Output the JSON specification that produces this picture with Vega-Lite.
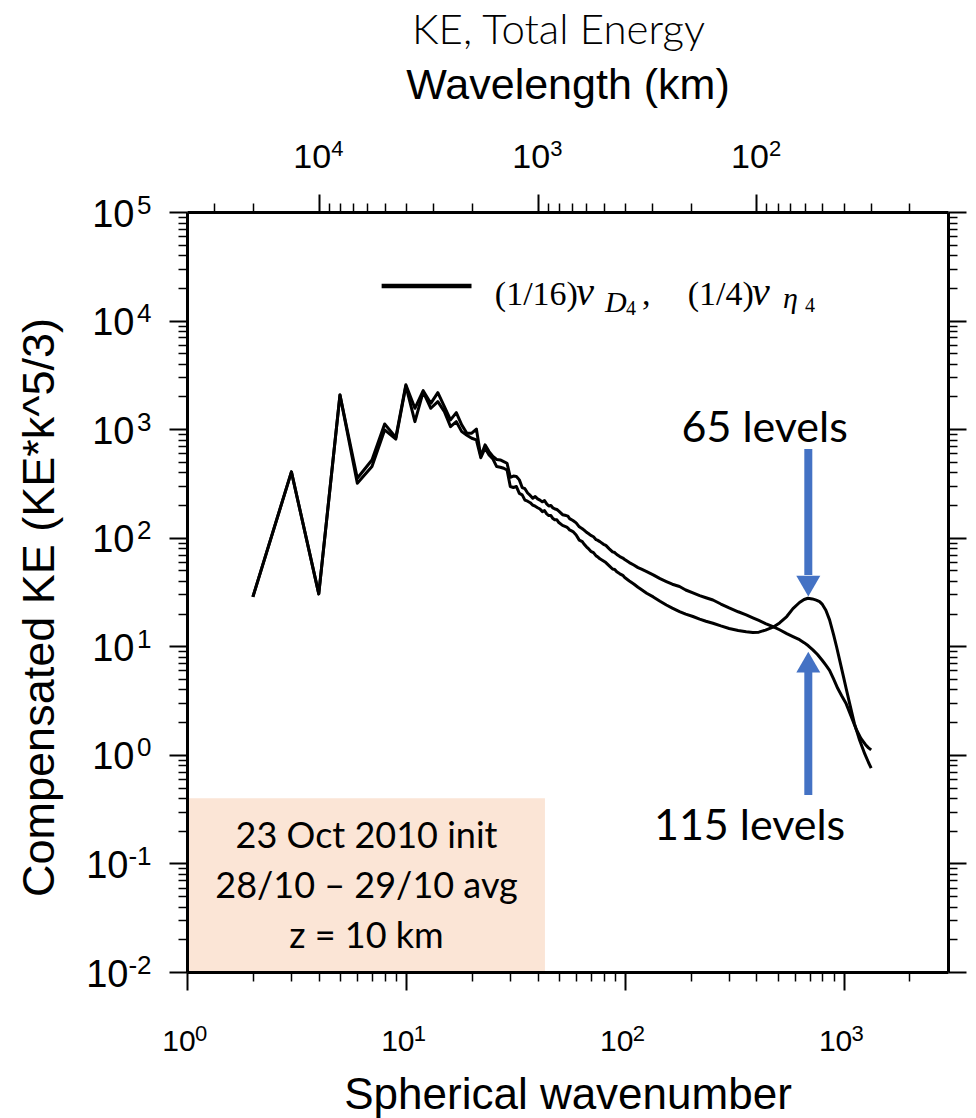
{
  "$schema": "https://vega.github.io/schema/vega-lite/v6.json",
  "width": 761,
  "height": 760,
  "autosize": "none",
  "padding": {"left": 187, "top": 212, "right": 28, "bottom": 146},
  "background": "white",
  "title": {"text": "KE, Total Energy", "font": "Lato", "fontWeight": 300, "fontSize": 42, "color": "black", "anchor": "middle", "offset": 11, "dx": -9},
  "config": {"view": {"stroke": null}, "axis": {"grid": false}},
  "datasets": {
    "curves": [
      {"run":"115 levels","k":2,"E":28.5},{"run":"115 levels","k":3,"E":404},{"run":"115 levels","k":4,"E":30.4},{"run":"115 levels","k":5,"E":2065},
      {"run":"115 levels","k":6,"E":353},{"run":"115 levels","k":7,"E":520},{"run":"115 levels","k":8,"E":1117},{"run":"115 levels","k":9,"E":840},
      {"run":"115 levels","k":10,"E":2560},{"run":"115 levels","k":11,"E":1557},{"run":"115 levels","k":12,"E":2261},{"run":"115 levels","k":13,"E":1730},
      {"run":"115 levels","k":14,"E":2168},{"run":"115 levels","k":15,"E":1611},{"run":"115 levels","k":16,"E":1216},{"run":"115 levels","k":17,"E":1419},
      {"run":"115 levels","k":18,"E":1094},{"run":"115 levels","k":19,"E":917},{"run":"115 levels","k":20,"E":917},{"run":"115 levels","k":21,"E":1002},
      {"run":"115 levels","k":22,"E":560},{"run":"115 levels","k":23,"E":716},{"run":"115 levels","k":24,"E":621},{"run":"115 levels","k":25,"E":560},
      {"run":"115 levels","k":26,"E":525},{"run":"115 levels","k":27,"E":520},{"run":"115 levels","k":28,"E":502},{"run":"115 levels","k":29,"E":485},
      {"run":"115 levels","k":30,"E":360},{"run":"115 levels","k":31,"E":370},{"run":"115 levels","k":32,"E":367},{"run":"115 levels","k":33,"E":341},
      {"run":"115 levels","k":34,"E":290},{"run":"115 levels","k":35,"E":283},{"run":"115 levels","k":36,"E":258},{"run":"115 levels","k":37,"E":245},
      {"run":"115 levels","k":38,"E":231},{"run":"115 levels","k":39,"E":240},{"run":"115 levels","k":40,"E":228},{"run":"115 levels","k":41,"E":222},
      {"run":"115 levels","k":42,"E":214},{"run":"115 levels","k":43,"E":220},{"run":"115 levels","k":44,"E":205},{"run":"115 levels","k":45,"E":196},
      {"run":"115 levels","k":46,"E":198},{"run":"115 levels","k":47,"E":188},{"run":"115 levels","k":48,"E":184},{"run":"115 levels","k":49,"E":182},
      {"run":"115 levels","k":50,"E":176},{"run":"115 levels","k":52,"E":163},{"run":"115 levels","k":54,"E":160},{"run":"115 levels","k":55,"E":158},
      {"run":"115 levels","k":56,"E":150},{"run":"115 levels","k":58,"E":144},{"run":"115 levels","k":60,"E":137},{"run":"115 levels","k":62,"E":126},
      {"run":"115 levels","k":64,"E":121},{"run":"115 levels","k":65,"E":118},{"run":"115 levels","k":67,"E":112},{"run":"115 levels","k":68,"E":110},
      {"run":"115 levels","k":70,"E":105},{"run":"115 levels","k":72,"E":102},{"run":"115 levels","k":74,"E":96},{"run":"115 levels","k":75,"E":95},
      {"run":"115 levels","k":77,"E":92},{"run":"115 levels","k":80,"E":87},{"run":"115 levels","k":82,"E":85},{"run":"115 levels","k":85,"E":79},
      {"run":"115 levels","k":88,"E":74},{"run":"115 levels","k":90,"E":73},{"run":"115 levels","k":92,"E":70},{"run":"115 levels","k":95,"E":67},
      {"run":"115 levels","k":98,"E":65},{"run":"115 levels","k":100,"E":63},{"run":"115 levels","k":105,"E":59},{"run":"115 levels","k":110,"E":56},
      {"run":"115 levels","k":115,"E":53},{"run":"115 levels","k":120,"E":51},{"run":"115 levels","k":126,"E":48.8},{"run":"115 levels","k":135,"E":45.5},
      {"run":"115 levels","k":145,"E":42},{"run":"115 levels","k":155,"E":39.5},{"run":"115 levels","k":165,"E":37.3},{"run":"115 levels","k":178,"E":35.5},
      {"run":"115 levels","k":190,"E":33},{"run":"115 levels","k":205,"E":31},{"run":"115 levels","k":220,"E":29.3},{"run":"115 levels","k":235,"E":28},
      {"run":"115 levels","k":253,"E":26.7},{"run":"115 levels","k":275,"E":24.5},{"run":"115 levels","k":300,"E":22.6},{"run":"115 levels","k":330,"E":20.8},
      {"run":"115 levels","k":359,"E":19.5},{"run":"115 levels","k":385,"E":18.3},{"run":"115 levels","k":410,"E":17.3},{"run":"115 levels","k":440,"E":16.2},
      {"run":"115 levels","k":476,"E":15.2},{"run":"115 levels","k":510,"E":14.2},{"run":"115 levels","k":550,"E":13.1},{"run":"115 levels","k":587,"E":12.3},
      {"run":"115 levels","k":629,"E":11.5},{"run":"115 levels","k":660,"E":10.8},{"run":"115 levels","k":690,"E":10.1},{"run":"115 levels","k":724,"E":9.27},
      {"run":"115 levels","k":760,"E":8.4},{"run":"115 levels","k":800,"E":7.4},{"run":"115 levels","k":830,"E":6.7},{"run":"115 levels","k":863,"E":6.0},
      {"run":"115 levels","k":900,"E":5.0},{"run":"115 levels","k":940,"E":4.1},{"run":"115 levels","k":980,"E":3.5},{"run":"115 levels","k":1028,"E":2.95},
      {"run":"115 levels","k":1080,"E":2.3},{"run":"115 levels","k":1142,"E":1.72},{"run":"115 levels","k":1200,"E":1.42},{"run":"115 levels","k":1260,"E":1.24},
      {"run":"115 levels","k":1300,"E":1.16},{"run":"115 levels","k":1337,"E":1.11},

      {"run":"65 levels","k":2,"E":28.5},{"run":"65 levels","k":3,"E":404},{"run":"65 levels","k":4,"E":30.4},{"run":"65 levels","k":5,"E":2065},
      {"run":"65 levels","k":6,"E":318},{"run":"65 levels","k":7,"E":452},{"run":"65 levels","k":8,"E":984},{"run":"65 levels","k":9,"E":810},
      {"run":"65 levels","k":10,"E":2500},{"run":"65 levels","k":11,"E":1172},{"run":"65 levels","k":12,"E":2200},{"run":"65 levels","k":13,"E":1557},
      {"run":"65 levels","k":14,"E":1790},{"run":"65 levels","k":15,"E":1449},{"run":"65 levels","k":16,"E":1055},{"run":"65 levels","k":17,"E":1172},
      {"run":"65 levels","k":18,"E":949},{"run":"65 levels","k":19,"E":880},{"run":"65 levels","k":20,"E":824},{"run":"65 levels","k":21,"E":796},
      {"run":"65 levels","k":22,"E":545},{"run":"65 levels","k":23,"E":667},{"run":"65 levels","k":24,"E":578},{"run":"65 levels","k":25,"E":530},
      {"run":"65 levels","k":26,"E":452},{"run":"65 levels","k":27,"E":446},{"run":"65 levels","k":28,"E":436},{"run":"65 levels","k":29,"E":420},
      {"run":"65 levels","k":30,"E":296},{"run":"65 levels","k":31,"E":290},{"run":"65 levels","k":32,"E":296},{"run":"65 levels","k":33,"E":256},
      {"run":"65 levels","k":34,"E":248},{"run":"65 levels","k":35,"E":222},{"run":"65 levels","k":36,"E":217},{"run":"65 levels","k":37,"E":210},
      {"run":"65 levels","k":38,"E":200},{"run":"65 levels","k":39,"E":195},{"run":"65 levels","k":40,"E":189},{"run":"65 levels","k":41,"E":184},
      {"run":"65 levels","k":42,"E":174},{"run":"65 levels","k":43,"E":178},{"run":"65 levels","k":44,"E":166},{"run":"65 levels","k":45,"E":160},
      {"run":"65 levels","k":46,"E":160},{"run":"65 levels","k":47,"E":150},{"run":"65 levels","k":48,"E":146},{"run":"65 levels","k":49,"E":146},
      {"run":"65 levels","k":50,"E":138},{"run":"65 levels","k":52,"E":130},{"run":"65 levels","k":54,"E":126},{"run":"65 levels","k":55,"E":123},
      {"run":"65 levels","k":56,"E":118},{"run":"65 levels","k":58,"E":114},{"run":"65 levels","k":60,"E":106},{"run":"65 levels","k":62,"E":95},
      {"run":"65 levels","k":64,"E":92},{"run":"65 levels","k":65,"E":88},{"run":"65 levels","k":67,"E":82},{"run":"65 levels","k":68,"E":80},
      {"run":"65 levels","k":70,"E":75},{"run":"65 levels","k":72,"E":73},{"run":"65 levels","k":74,"E":68},{"run":"65 levels","k":75,"E":67},
      {"run":"65 levels","k":77,"E":64},{"run":"65 levels","k":80,"E":61},{"run":"65 levels","k":82,"E":59},{"run":"65 levels","k":85,"E":55},
      {"run":"65 levels","k":88,"E":51.5},{"run":"65 levels","k":90,"E":51},{"run":"65 levels","k":92,"E":48.5},{"run":"65 levels","k":95,"E":46.5},
      {"run":"65 levels","k":98,"E":45},{"run":"65 levels","k":100,"E":43},{"run":"65 levels","k":105,"E":40},{"run":"65 levels","k":110,"E":37.5},
      {"run":"65 levels","k":115,"E":35},{"run":"65 levels","k":120,"E":33},{"run":"65 levels","k":126,"E":30.8},{"run":"65 levels","k":135,"E":28.5},
      {"run":"65 levels","k":145,"E":26},{"run":"65 levels","k":155,"E":24},{"run":"65 levels","k":165,"E":22.5},{"run":"65 levels","k":178,"E":20.9},
      {"run":"65 levels","k":190,"E":19.8},{"run":"65 levels","k":205,"E":18.8},{"run":"65 levels","k":220,"E":17.8},{"run":"65 levels","k":235,"E":17},
      {"run":"65 levels","k":253,"E":16.3},{"run":"65 levels","k":275,"E":15.4},{"run":"65 levels","k":300,"E":14.6},{"run":"65 levels","k":330,"E":14},
      {"run":"65 levels","k":359,"E":13.6},{"run":"65 levels","k":385,"E":13.4},{"run":"65 levels","k":410,"E":13.5},{"run":"65 levels","k":440,"E":14.1},
      {"run":"65 levels","k":476,"E":15.0},{"run":"65 levels","k":510,"E":16.4},{"run":"65 levels","k":550,"E":18.8},{"run":"65 levels","k":587,"E":22.2},
      {"run":"65 levels","k":629,"E":25.3},{"run":"65 levels","k":660,"E":27},{"run":"65 levels","k":687,"E":27.7},{"run":"65 levels","k":720,"E":27.3},
      {"run":"65 levels","k":750,"E":26.6},{"run":"65 levels","k":777,"E":25.8},{"run":"65 levels","k":800,"E":24.3},{"run":"65 levels","k":830,"E":21.5},
      {"run":"65 levels","k":863,"E":17.5},{"run":"65 levels","k":900,"E":12.8},{"run":"65 levels","k":930,"E":9.8},{"run":"65 levels","k":959,"E":7.5},
      {"run":"65 levels","k":1000,"E":5.2},{"run":"65 levels","k":1030,"E":4.0},{"run":"65 levels","k":1065,"E":3.0},{"run":"65 levels","k":1120,"E":1.95},
      {"run":"65 levels","k":1183,"E":1.37},{"run":"65 levels","k":1250,"E":1.02},{"run":"65 levels","k":1300,"E":0.85},{"run":"65 levels","k":1337,"E":0.755}
    ],
    "box": [{"k1": 1, "k2": 43.2, "E1": 0.01, "E2": 0.398}],
    "boxtext": [
      {"k": 6.61, "E": 0.1387, "t": "23 Oct 2010 init"},
      {"k": 6.61, "E": 0.0481, "t": "28/10 – 29/10 avg"},
      {"k": 6.61, "E": 0.01663, "t": "z = 10 km"}
    ],
    "levels": [
      {"k": 436, "E": 762, "t": "65 levels"},
      {"k": 372, "E": 0.1644, "t": "115 levels"}
    ],
    "legendline": [{"k1": 7.75, "k2": 19.95, "E": 20830}],
    "legendmain": [
      {"k": 25.5, "E": 13910, "t": "(1/16)"},
      {"k": 119.9, "E": 13910, "t": ","},
      {"k": 194.0, "E": 13910, "t": "(1/4)"}
    ],
    "legendnu": [
      {"k": 60.0, "E": 13910, "t": "ν"},
      {"k": 381.4, "E": 13910, "t": "ν"}
    ],
    "legendsub": [
      {"k": 81.2, "E": 11995, "t": "D"},
      {"k": 528.6, "E": 13057, "t": "η"}
    ],
    "legenddigit": [
      {"k": 101.3, "E": 11253, "t": "4"},
      {"k": 666.2, "E": 11995, "t": "4"}
    ],
    "arrows": [
      {"k": 690, "E1": 656, "E2": 45.4, "Eh": 35.9, "dir": "down"},
      {"k": 690, "E1": 0.427, "E2": 5.8, "Eh": 7.16, "dir": "up"}
    ]
  },
  "layer": [
    {
      "data": {"name": "box"},
      "mark": {"type": "rect", "color": "#FBE5D6"},
      "encoding": {
        "x": {"field": "k1", "type": "quantitative", "scale": {"type": "log", "domain": [1, 3000]},
          "axis": {"orient": "bottom", "values": [2,3,4,5,6,7,8,9,20,30,40,50,60,70,80,90,200,300,400,500,600,700,800,900,2000], "tickSize": 9, "tickWidth": 1.5, "tickColor": "black", "labels": false, "domain": false, "title": null, "grid": false, "zindex": 1}},
        "x2": {"field": "k2"},
        "y": {"field": "E1", "type": "quantitative", "scale": {"type": "log", "domain": [0.01, 100000]},
          "axis": {"orient": "left", "values": [0.02,0.03,0.04,0.05,0.06,0.07,0.08,0.09,0.2,0.3,0.4,0.5,0.6,0.7,0.8,0.9,2,3,4,5,6,7,8,9,20,30,40,50,60,70,80,90,200,300,400,500,600,700,800,900,2000,3000,4000,5000,6000,7000,8000,9000,20000,30000,40000,50000,60000,70000,80000,90000], "tickSize": 9, "tickWidth": 1.5, "tickColor": "black", "labels": false, "domain": false, "title": null, "grid": false, "zindex": 1}},
        "y2": {"field": "E2"}
      }
    },
    {
      "data": {"name": "curves"},
      "mark": {"type": "line", "color": "black", "strokeWidth": 3, "strokeJoin": "round"},
      "encoding": {
        "x": {"field": "k", "type": "quantitative", "scale": {"type": "log", "domain": [1, 3000]},
          "axis": {"orient": "bottom", "values": [1, 10, 100, 1000], "labelExpr": "'10'", "tickSize": 18, "tickWidth": 2, "tickColor": "black", "domainWidth": 3, "domainColor": "black", "labelFont": "Liberation Sans", "labelFontSize": 30, "labelColor": "black", "labelAlign": "center", "labelBaseline": "alphabetic", "labelOffset": -8.5, "labelPadding": 60, "labelFlush": false, "labelOverlap": false, "title": "Spherical wavenumber", "titleFont": "Liberation Sans", "titleFontSize": 44, "titleFontWeight": "normal", "titleColor": "black", "titleBaseline": "alphabetic", "titleY": 136, "grid": false, "zindex": 1}},
        "y": {"field": "E", "type": "quantitative", "scale": {"type": "log", "domain": [0.01, 100000]},
          "axis": {"orient": "left", "values": [0.01, 0.1, 1, 10, 100, 1000, 10000, 100000], "labelExpr": "'10'", "tickSize": 18, "tickWidth": 2, "tickColor": "black", "domainWidth": 3, "domainColor": "black", "labelFont": "Liberation Sans", "labelFontSize": 38, "labelColor": "black", "labelAlign": "right", "labelBaseline": "alphabetic", "labelOffset": 14, "labelPadding": {"condition": {"test": "datum.value < 1", "value": 41}, "value": 35}, "labelFlush": false, "labelOverlap": false, "title": "Compensated KE (KE*k^5/3)", "titleFont": "Liberation Sans", "titleFontSize": 45, "titleFontWeight": "normal", "titleColor": "black", "titleBaseline": "alphabetic", "titleAlign": "center", "titleAngle": 270, "titleX": -134, "titleY": 395, "grid": false, "zindex": 1}},
        "detail": {"field": "run"}
      }
    },
    {
      "data": {"name": "boxtext"},
      "mark": {"type": "text", "font": "Lato", "fontSize": 36, "color": "black", "align": "center", "baseline": "alphabetic"},
      "encoding": {
        "x": {"field": "k", "type": "quantitative", "scale": {"type": "log", "domain": [1, 3000]},
          "axis": {"orient": "top", "values": [4, 40, 400], "labelExpr": "'10'", "tickSize": 18, "tickWidth": 2, "tickColor": "black", "domainWidth": 3, "domainColor": "black", "labelFont": "Liberation Sans", "labelFontSize": 34, "labelColor": "black", "labelAlign": "center", "labelBaseline": "alphabetic", "labelOffset": -7, "labelPadding": 27, "labelFlush": false, "labelOverlap": false, "title": "Wavelength (km)", "titleFont": "Liberation Sans", "titleFontSize": 43, "titleFontWeight": "normal", "titleColor": "black", "titleBaseline": "alphabetic", "titleY": -114, "grid": false, "zindex": 1}},
        "y": {"field": "E", "type": "quantitative", "scale": {"type": "log", "domain": [0.01, 100000]},
          "axis": {"orient": "right", "values": [0.01, 0.1, 1, 10, 100, 1000, 10000, 100000], "labels": false, "tickSize": 18, "tickWidth": 2, "tickColor": "black", "domainWidth": 3, "domainColor": "black", "title": null, "grid": false, "zindex": 1}},
        "text": {"field": "t"}
      }
    },
    {
      "data": {"name": "levels"},
      "mark": {"type": "text", "font": "Lato", "fontSize": 43, "color": "black", "align": "center", "baseline": "alphabetic"},
      "encoding": {
        "x": {"field": "k", "type": "quantitative", "scale": {"type": "log", "domain": [1, 3000]},
          "axis": {"orient": "top", "values": [1.3333, 2, 4.4444, 5, 5.7143, 6.6667, 8, 10, 13.333, 20, 44.444, 50, 57.143, 66.667, 80, 100, 133.33, 200, 444.44, 500, 571.43, 666.67, 800, 1000, 1333.3, 2000], "tickSize": 9, "tickWidth": 1.5, "tickColor": "black", "labels": false, "domain": false, "title": null, "grid": false, "zindex": 1}},
        "y": {"field": "E", "type": "quantitative", "scale": {"type": "log", "domain": [0.01, 100000]},
          "axis": {"orient": "right", "values": [0.02,0.03,0.04,0.05,0.06,0.07,0.08,0.09,0.2,0.3,0.4,0.5,0.6,0.7,0.8,0.9,2,3,4,5,6,7,8,9,20,30,40,50,60,70,80,90,200,300,400,500,600,700,800,900,2000,3000,4000,5000,6000,7000,8000,9000,20000,30000,40000,50000,60000,70000,80000,90000], "tickSize": 9, "tickWidth": 1.5, "tickColor": "black", "labels": false, "domain": false, "title": null, "grid": false, "zindex": 1}},
        "text": {"field": "t"}
      }
    },
    {
      "data": {"name": "legendline"},
      "mark": {"type": "rule", "color": "black", "strokeWidth": 4.5},
      "encoding": {
        "x": {"field": "k1", "type": "quantitative", "scale": {"type": "log", "domain": [1, 3000]},
          "axis": {"orient": "bottom", "values": [1, 10, 100, 1000], "labelExpr": "['0','1','2','3'][round(log(datum.value)/LN10)]", "ticks": false, "tickSize": 0, "domain": false, "labelFont": "Liberation Sans", "labelFontSize": 22, "labelColor": "black", "labelAlign": "left", "labelBaseline": "alphabetic", "labelOffset": 7.5, "labelPadding": 68, "labelFlush": false, "labelOverlap": false, "title": null, "grid": false, "zindex": 1}},
        "x2": {"field": "k2"},
        "y": {"field": "E", "type": "quantitative", "scale": {"type": "log", "domain": [0.01, 100000]},
          "axis": {"orient": "left", "values": [0.01, 0.1, 1, 10, 100, 1000, 10000, 100000], "labelExpr": "['-2','-1','0','1','2','3','4','5'][round(log(datum.value)/LN10)+2]", "ticks": false, "tickSize": 0, "domain": false, "labelFont": "Liberation Sans", "labelFontSize": 26, "labelColor": "black", "labelAlign": "right", "labelBaseline": "alphabetic", "labelOffset": 1, "labelPadding": 36, "labelFlush": false, "labelOverlap": false, "title": null, "grid": false, "zindex": 1}}
      }
    },
    {
      "data": {"name": "legendmain"},
      "mark": {"type": "text", "font": "Liberation Serif", "fontSize": 34, "color": "black", "align": "left", "baseline": "alphabetic"},
      "encoding": {
        "x": {"field": "k", "type": "quantitative", "scale": {"type": "log", "domain": [1, 3000]},
          "axis": {"orient": "top", "values": [4, 40, 400], "labelExpr": "datum.value < 10 ? '4' : (datum.value < 100 ? '3' : '2')", "ticks": false, "tickSize": 0, "domain": false, "labelFont": "Liberation Sans", "labelFontSize": 22, "labelColor": "black", "labelAlign": "left", "labelBaseline": "alphabetic", "labelOffset": 12, "labelPadding": 57, "labelFlush": false, "labelOverlap": false, "title": null, "grid": false, "zindex": 1}},
        "y": {"field": "E", "type": "quantitative", "scale": {"type": "log", "domain": [0.01, 100000]}, "axis": null},
        "text": {"field": "t"}
      }
    },
    {
      "data": {"name": "legendnu"},
      "mark": {"type": "text", "font": "Liberation Serif", "fontStyle": "italic", "fontSize": 40, "color": "black", "align": "left", "baseline": "alphabetic"},
      "encoding": {
        "x": {"field": "k", "type": "quantitative", "scale": {"type": "log", "domain": [1, 3000]}, "axis": null},
        "y": {"field": "E", "type": "quantitative", "scale": {"type": "log", "domain": [0.01, 100000]}, "axis": null},
        "text": {"field": "t"}
      }
    },
    {
      "data": {"name": "legendsub"},
      "mark": {"type": "text", "font": "Liberation Serif", "fontStyle": "italic", "fontSize": 30, "color": "black", "align": "left", "baseline": "alphabetic"},
      "encoding": {
        "x": {"field": "k", "type": "quantitative", "scale": {"type": "log", "domain": [1, 3000]}, "axis": null},
        "y": {"field": "E", "type": "quantitative", "scale": {"type": "log", "domain": [0.01, 100000]}, "axis": null},
        "text": {"field": "t"}
      }
    },
    {
      "data": {"name": "legenddigit"},
      "mark": {"type": "text", "font": "Liberation Serif", "fontSize": 20, "color": "black", "align": "left", "baseline": "alphabetic"},
      "encoding": {
        "x": {"field": "k", "type": "quantitative", "scale": {"type": "log", "domain": [1, 3000]}, "axis": null},
        "y": {"field": "E", "type": "quantitative", "scale": {"type": "log", "domain": [0.01, 100000]}, "axis": null},
        "text": {"field": "t"}
      }
    },
    {
      "data": {"name": "arrows"},
      "mark": {"type": "rule", "color": "#4472C4", "strokeWidth": 8},
      "encoding": {
        "x": {"field": "k", "type": "quantitative", "scale": {"type": "log", "domain": [1, 3000]}, "axis": null},
        "y": {"field": "E1", "type": "quantitative", "scale": {"type": "log", "domain": [0.01, 100000]}, "axis": null},
        "y2": {"field": "E2"}
      }
    },
    {
      "data": {"name": "arrows"},
      "mark": {"type": "point", "filled": true, "size": 576, "color": "#4472C4", "opacity": 1, "strokeWidth": 0},
      "encoding": {
        "x": {"field": "k", "type": "quantitative", "scale": {"type": "log", "domain": [1, 3000]}, "axis": null},
        "y": {"field": "Eh", "type": "quantitative", "scale": {"type": "log", "domain": [0.01, 100000]}, "axis": null},
        "shape": {"field": "dir", "type": "nominal", "scale": {"domain": ["down", "up"], "range": ["triangle-down", "triangle-up"]}, "legend": null}
      }
    }
  ],
  "resolve": {"axis": {"x": "independent", "y": "independent"}}
}
